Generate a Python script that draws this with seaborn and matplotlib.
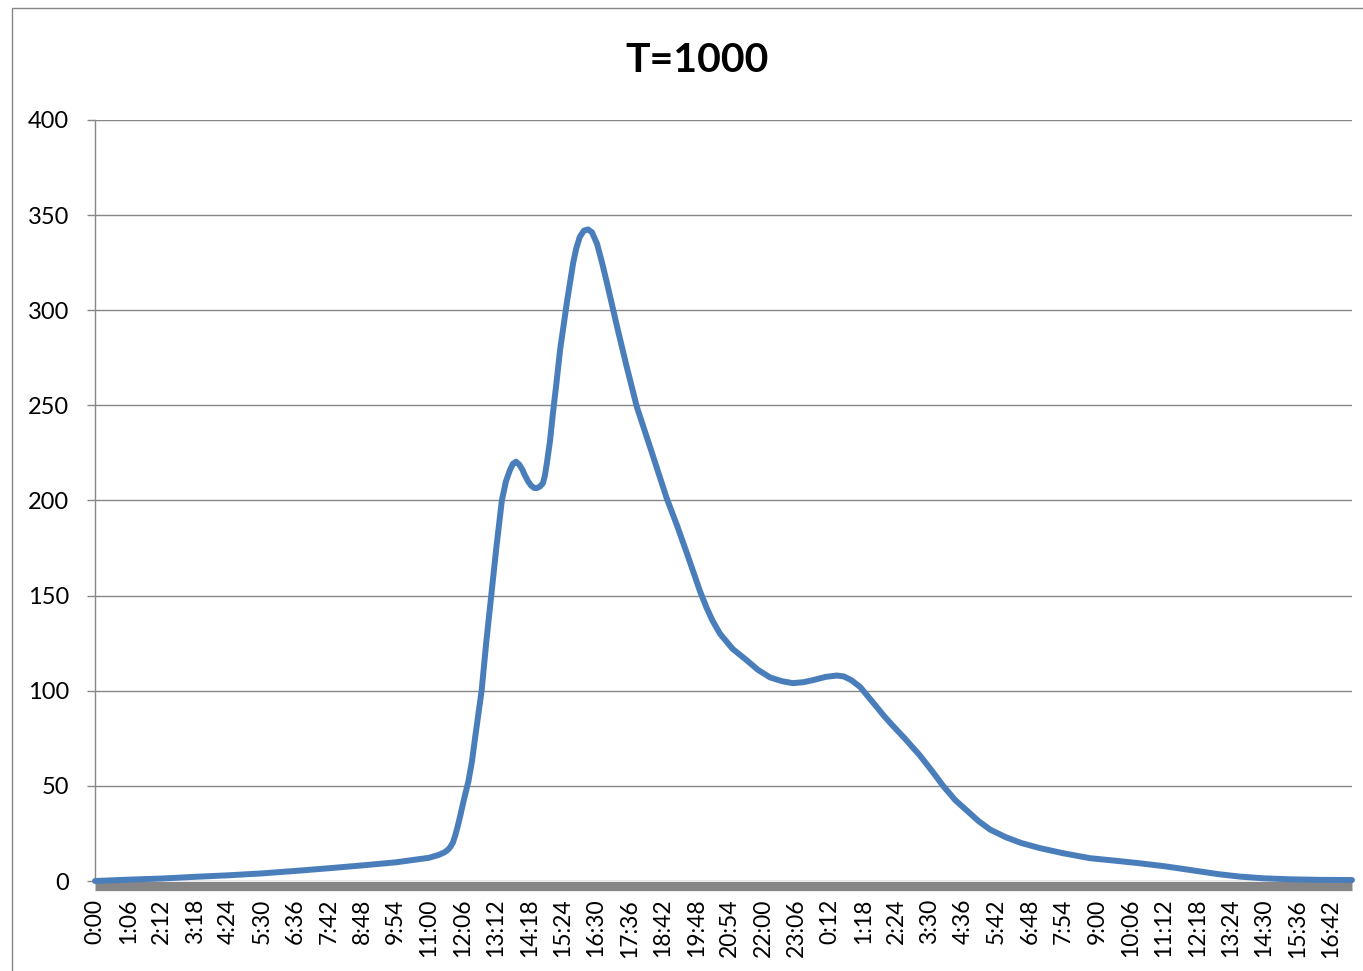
import matplotlib
matplotlib.use("Agg")
import matplotlib.pyplot as plt
import matplotlib.patches as mpatches
import pandas as pd
import seaborn as sns

# Elapsed time (minutes from 0:00) and the level recorded at that time
minutes = [0, 66, 132, 198, 264, 330, 396, 462, 528, 594, 660, 680, 690, 697,
           702, 707, 712, 717, 722, 727, 732, 738, 745, 751, 758, 764, 773,
           783, 793, 804, 812, 820, 826, 832, 838, 844, 850, 856, 862, 868,
           873, 879, 885, 889, 893, 899, 905, 912, 919, 933, 945, 951, 958,
           966, 974, 982, 992, 1002, 1012, 1032, 1051, 1071, 1097, 1130, 1150,
           1170, 1183, 1196, 1208, 1220, 1235, 1260, 1288, 1310, 1334, 1358,
           1379, 1400, 1419, 1444, 1466, 1480, 1495, 1512, 1540, 1560, 1577,
           1600, 1630, 1655, 1676, 1700, 1723, 1746, 1769, 1800, 1830, 1867,
           1915, 1966, 2015, 2065, 2115, 2164, 2220, 2263, 2310, 2361, 2420,
           2484]
level = [0.0, 0.7, 1.3, 2.2, 3.0, 4.0, 5.3, 6.7, 8.2, 9.8, 12.2, 13.8, 15.0,
         16.3, 17.8, 20.0, 24.0, 29.0, 34.5, 40.5, 46.0, 52.5, 63.0, 75.0,
         88.5, 100.0, 125.0, 150.0, 175.0, 200.0, 210.0, 216.0, 219.3,
         220.4, 219.0, 216.5, 213.0, 210.0, 207.8, 206.6, 206.5, 207.3,
         209.0, 213.0, 219.7, 231.0, 246.0, 262.0, 279.0, 305.0, 325.0,
         332.5, 338.5, 341.8, 342.5, 341.0, 335.0, 325.0, 314.0, 291.0,
         270.0, 249.0, 228.0, 201.0, 187.0, 172.0, 162.0, 152.0, 144.0,
         137.0, 130.0, 122.0, 116.0, 111.0, 107.0, 105.0, 104.0, 104.5,
         105.6, 107.3, 108.0, 107.5, 105.5, 102.0, 93.0, 86.5, 81.5, 75.0,
         66.0, 57.5, 50.0, 42.5, 37.0, 31.5, 27.0, 23.0, 20.0, 17.3, 14.5,
         12.0, 10.7, 9.3, 7.7, 5.8, 3.6, 2.3, 1.4, 0.9, 0.6, 0.5]

tick_labels = ["0:00", "1:06", "2:12", "3:18", "4:24", "5:30", "6:36", "7:42",
               "8:48", "9:54", "11:00", "12:06", "13:12", "14:18", "15:24",
               "16:30", "17:36", "18:42", "19:48", "20:54", "22:00", "23:06",
               "0:12", "1:18", "2:24", "3:30", "4:36", "5:42", "6:48", "7:54",
               "9:00", "10:06", "11:12", "12:18", "13:24", "14:30", "15:36",
               "16:42"]
y_ticks = [0, 50, 100, 150, 200, 250, 300, 350, 400]
title = "T=1000"

sns.set_style("white")
plt.rcParams["font.family"] = ["Lato", "DejaVu Sans"]

W, H = 1363, 971
fig = plt.figure(figsize=(W / 100, H / 100), dpi=100)
ax = fig.add_axes([95 / W, 1 - 881 / H, (1352 - 95) / W, (881 - 120) / H])

grey = "#868686"
df = pd.DataFrame({"minutes": minutes, "level": level})
line_ax = sns.lineplot(data=df, x="minutes", y="level", ax=ax, color="#4A7EBB",
                       linewidth=4.3, clip_on=False, zorder=4)
for ln in line_ax.lines:
    ln.set_solid_joinstyle("round")
    ln.set_solid_capstyle("round")

ax.set_xlim(0, 2484)
ax.set_ylim(0, 400)
ax.set_xlabel("")
ax.set_ylabel("")

ax.set_yticks(y_ticks)
ax.set_yticklabels([str(v) for v in y_ticks])
ax.set_xticks([66 * i for i in range(len(tick_labels))])
ax.set_xticklabels(tick_labels)

ax.yaxis.grid(True, color=grey, linewidth=1.0)
ax.xaxis.grid(False)
ax.set_axisbelow(True)

ax.tick_params(axis="y", length=5.8, width=1.0, color=grey, pad=13,
               labelsize=17, labelcolor="black", left=True)
ax.tick_params(axis="x", length=0, pad=9.5, labelsize=16.5,
               labelcolor="black", bottom=True, labelrotation=90)

for side in ("top", "right"):
    ax.spines[side].set_visible(False)
ax.spines["left"].set_color(grey)
ax.spines["left"].set_linewidth(1.0)
ax.spines["bottom"].set_color(grey)
ax.spines["bottom"].set_linewidth(6.7)
ax.spines["bottom"].set_position(("outward", 3.35))
ax.spines["bottom"].set_capstyle("butt")

fig.text(697 / W, 1 - 61 / H, title, ha="center", va="center",
         fontsize=29.5, fontweight="bold", color="black")

# chart area frame
frame = mpatches.Rectangle((12 / W, -0.1), 1.2, (1 - 8 / H) + 0.1,
                           transform=fig.transFigure, fill=False,
                           edgecolor=grey, linewidth=1.0)
fig.patches.append(frame)

fig.savefig("out.png", dpi=100, facecolor="white")
